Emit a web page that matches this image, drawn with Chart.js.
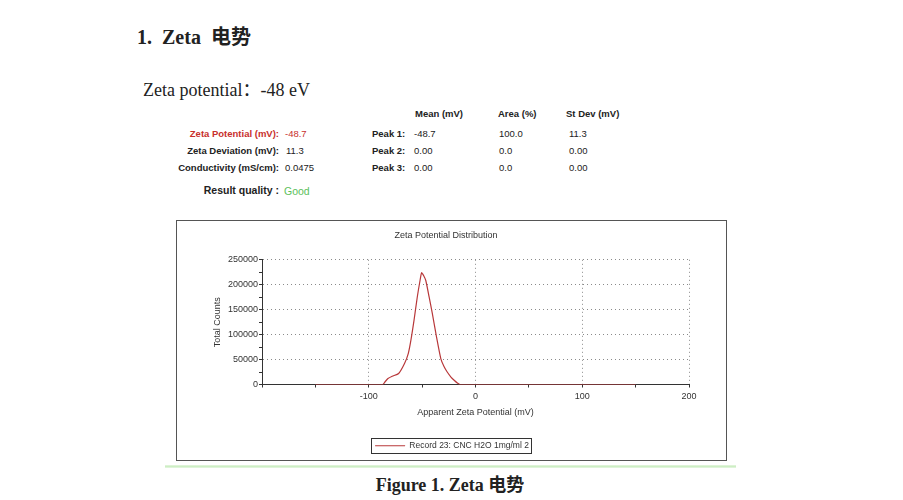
<!DOCTYPE html>
<html>
<head>
<meta charset="utf-8">
<script src="https://cdn.jsdelivr.net/npm/chart.js@4.4.1/dist/chart.umd.min.js"></script>
<style>
  body { margin: 0; background: #fff; width: 903px; height: 500px; position: relative; overflow: hidden;
         font-family: "Liberation Sans", Arial, sans-serif; color: #222; }
  .abs { position: absolute; white-space: nowrap; line-height: 1; }
  .serif { font-family: "Liberation Serif", "Times New Roman", "Noto Sans CJK SC", serif; }
  .tb { font-size: 9.5px; }
  .b { font-weight: bold; }
  .red { color: #c8302c; }
  .r { text-align: right; }
  #box { position: absolute; left: 176px; top: 220px; width: 549px; height: 239px; border: 1px solid #555; }
  #wrap { position: absolute; left: 177px; top: 221px; width: 549px; height: 239px; }
  #rule { position: absolute; left: 165px; top: 465px; width: 571px; height: 3px;
          background: linear-gradient(to bottom, #e6f6e0, #cdeec4, #e8f7e4); }
</style>
</head>
<body>
<div class="abs serif b" style="left:137px; top:27px; font-size:20px;">1.&nbsp; Zeta&nbsp; 电势</div>
<div class="abs serif" style="left:143px; top:81px; font-size:18px;">Zeta potential：-48 eV</div>

<!-- result table -->
<div class="abs tb b" style="left:415px; top:109px;">Mean (mV)</div>
<div class="abs tb b" style="left:498px; top:109px;">Area (%)</div>
<div class="abs tb b" style="left:566px; top:109px;">St Dev (mV)</div>

<div class="abs tb b red r" style="right:624px; top:129px;">Zeta Potential (mV):</div>
<div class="abs tb red" style="left:285px; top:129px;">-48.7</div>
<div class="abs tb b r" style="right:624px; top:146px;">Zeta Deviation (mV):</div>
<div class="abs tb" style="left:286px; top:146px;">11.3</div>
<div class="abs tb b r" style="right:624px; top:163px;">Conductivity (mS/cm):</div>
<div class="abs tb" style="left:285px; top:163px;">0.0475</div>

<div class="abs tb b" style="left:372px; top:129px;">Peak 1:</div>
<div class="abs tb" style="left:414px; top:129px;">-48.7</div>
<div class="abs tb" style="left:499px; top:129px;">100.0</div>
<div class="abs tb" style="left:569px; top:129px;">11.3</div>
<div class="abs tb b" style="left:372px; top:146px;">Peak 2:</div>
<div class="abs tb" style="left:414px; top:146px;">0.00</div>
<div class="abs tb" style="left:499px; top:146px;">0.0</div>
<div class="abs tb" style="left:569px; top:146px;">0.00</div>
<div class="abs tb b" style="left:372px; top:163px;">Peak 3:</div>
<div class="abs tb" style="left:414px; top:163px;">0.00</div>
<div class="abs tb" style="left:499px; top:163px;">0.0</div>
<div class="abs tb" style="left:569px; top:163px;">0.00</div>

<div class="abs b r" style="right:624px; top:185px; font-size:10.5px;">Result quality :</div>
<div class="abs" style="left:284px; top:186px; font-size:10.5px; color:#5cbf5c;">Good</div>

<div id="box"></div>
<div id="wrap"><canvas id="zetaChart"></canvas></div>
<div id="rule"></div>

<div class="abs serif b" style="left:0; width:900px; text-align:center; top:476px; font-size:18px;">Figure 1. Zeta 电势</div>

<script>
// Apparent zeta potential (mV) and total counts
const zetaMv = [-150, -87, -84.5, -82, -78, -72, -66.5, -63, -60.5, -57.5, -54.5, -52, -50.5, -48.5, -46.5, -43.5, -40.5, -36.5, -32.5, -29.5, -26.5, -23, -20, -17, -14.5, 150];
const counts = [0, 0, 6000, 12000, 16500, 22000, 42000, 62000, 89000, 130000, 176000, 208000, 224000, 218000, 208000, 176000, 143000, 95000, 52000, 36000, 25000, 15000, 8500, 3000, 0, 0];
const xTicksShown = [-100, 0, 100, 200];
const yTickStep = 50000;
const seriesLabel = 'Record 23: CNC H2O 1mg/ml 2';

const lineColor = '#b8383a';

Chart.defaults.font.family = '"Liberation Sans", Arial, sans-serif';
Chart.defaults.font.size = 9;
Chart.defaults.color = '#333';

// legend sits a little right of the title in the original, and has a thin frame
const legendFrame = {
    id: 'legendFrame',
    afterLayout(chart) {
        chart.legend.left += 6;
        chart.legend.right += 6;
    },
    afterDraw(chart) {
        const hb = chart.legend.legendHitBoxes[0];
        if (!hb) return;
        const ctx = chart.ctx;
        ctx.save();
        ctx.strokeStyle = '#333';
        ctx.lineWidth = 1;
        ctx.strokeRect(Math.round(hb.left) - 3.5, Math.round(hb.top) - 3.5, Math.round(hb.width) + 6, Math.round(hb.height) + 6);
        ctx.restore();
    }
};

const points = zetaMv.map((x, i) => ({ x: x, y: counts[i] }));

new Chart(document.getElementById('zetaChart'), {
    type: 'line',
    data: {
        datasets: [{
            label: seriesLabel,
            data: points,
            borderColor: lineColor,
            backgroundColor: lineColor,
            borderWidth: 1.2,
            pointRadius: 0,
            tension: 0.2,
            fill: false
        }]
    },
    options: {
        responsive: true,
        maintainAspectRatio: false,
        animation: false,
        layout: { padding: { left: 26, right: 37, top: 0, bottom: 0 } },
        plugins: {
            title: {
                display: true,
                text: 'Zeta Potential Distribution',
                color: '#333',
                font: { size: 9, weight: 'normal' },
                padding: { top: 9, bottom: 19 }
            },
            legend: {
                display: true,
                position: 'bottom',
                labels: {
                    boxWidth: 30,
                    boxHeight: 1,
                    padding: 10,
                    color: '#333',
                    font: { size: 8.5 },
                    // thin 1px sample line, no stroke round it
                    generateLabels: chart => Chart.defaults.plugins.legend.labels.generateLabels(chart)
                        .map(item => Object.assign(item, { lineWidth: 0 }))
                }
            },
            tooltip: { enabled: false }
        },
        scales: {
            x: {
                type: 'linear',
                min: -200,
                max: 200,
                afterFit: s => { s.height = 47; },
                ticks: {
                    stepSize: 50,
                    autoSkip: false,
                    maxRotation: 0,
                    padding: 4,
                    callback: v => xTicksShown.includes(v) ? v : ''
                },
                grid: {
                    color: c => (c.tick && xTicksShown.includes(c.tick.value)) ? '#8a8a8a' : 'rgba(0,0,0,0)',
                    tickColor: '#333',
                    tickLength: 3
                },
                border: { display: true, color: '#333', width: 1, dash: [1, 3] },
                title: {
                    display: true,
                    text: 'Apparent Zeta Potential (mV)',
                    color: '#333',
                    font: { size: 9 },
                    padding: { top: 0, bottom: 14 }
                }
            },
            y: {
                min: 0,
                max: 250000,
                afterFit: s => { s.width = 59; },
                ticks: {
                    stepSize: 25000,
                    autoSkip: false,
                    padding: 1,
                    callback: v => v % yTickStep === 0 ? v : ''
                },
                grid: {
                    color: c => (c.tick && c.tick.value > 0 && c.tick.value % yTickStep === 0) ? '#8a8a8a' : 'rgba(0,0,0,0)',
                    tickColor: '#333',
                    tickLength: 3
                },
                border: { display: true, color: '#333', width: 1, dash: [1, 3] },
                title: {
                    display: true,
                    text: 'Total Counts',
                    color: '#333',
                    font: { size: 9 },
                    padding: { top: 9, bottom: 0 }
                }
            }
        }
    },
    plugins: [legendFrame]
});
</script>
</body>
</html>
